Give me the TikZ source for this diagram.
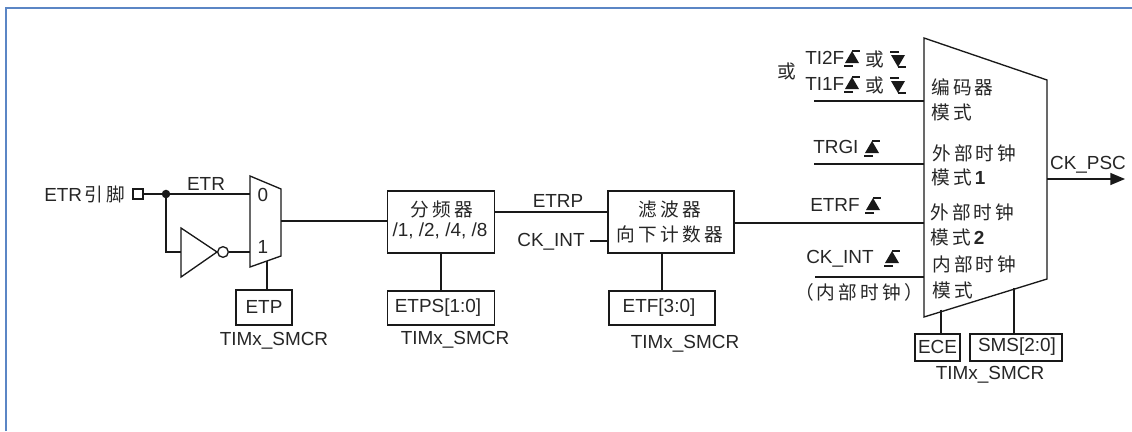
\documentclass[tikz,border=0pt]{standalone}
\usepackage{fontspec}
\setmainfont{Liberation Sans}
\newfontfamily\cjk[LetterSpace=17]{Noto Sans CJK SC}
\newcommand{\zh}[1]{{\cjk\fontsize{14}{16}\selectfont #1}}
\usetikzlibrary{arrows.meta}
\definecolor{framecol}{HTML}{5B86C5}
\tikzset{
  wire/.style={draw=black!90,line width=1pt},
  regbox/.style={draw=black!90,line width=1pt,rectangle,inner sep=0pt},
  lbl/.style={inner sep=0pt,font=\fontsize{14.2}{16}\selectfont,text=black!85},
  rise/.pic={
    \fill[black!90] (-7,4) -- (0,-8) -- (7,4) -- cycle;
    \draw[black!90,line width=.8pt] (0,-8) -- (8,-8) (1,7) -- (-8,7);
  },
  fall/.pic={
    \fill[black!90] (-7,-4) -- (0,8) -- (7,-4) -- cycle;
    \draw[black!90,line width=.8pt] (1,-7) -- (-8,-7) (0,8) -- (8,8);
  }
}
\begin{document}
\begin{tikzpicture}[x=0.75pt,y=-0.75pt]
\useasboundingbox (0,0) rectangle (1132,432);
\fill[white] (0,0) rectangle (1132,432);
\draw[framecol,line width=1.1pt] (6,431) -- (6,8) -- (1132,8);

% main selector
\coordinate (mTL) at (924,38);
\coordinate (mTR) at (1047,80);
\coordinate (mBR) at (1047,279);
\coordinate (mBL) at (924,317);
\draw[wire] (mTL) -- (mTR) -- (mBR) -- (mBL) -- cycle;
\coordinate (i1) at (814,101);
\coordinate (i2) at (814,164);
\coordinate (i4) at (815,277);
\coordinate (oEnd) at (1125,179);
\draw[wire] (i1) -- (i1 -| mTL);
\draw[wire] (i2) -- (i2 -| mTL);
\draw[wire] (i4) -- (i4 -| mTL);
\draw[wire,-{Triangle[length=11pt,width=9pt]}] (oEnd -| mTR) -- (oEnd);

% input mux
\coordinate (xTL) at (250,176);
\coordinate (xTR) at (281,189);
\coordinate (xBR) at (281,256);
\coordinate (xBL) at (250,267);
\draw[wire] (xTL) -- (xTR) -- (xBR) -- (xBL) -- cycle;
\node[regbox,line width=.8pt,minimum width=7.5pt,minimum height=7.5pt] (pin) at (138,194) {};
\coordinate (in0) at (250,194);
\coordinate (in1) at (250,252);
\coordinate (dot) at (166,194);
\draw[wire] (pin.east) -- (in0);
\fill[black!90] (dot) circle (3.2pt);
\coordinate (tA) at (181,228);
\coordinate (tB) at (181,277);
\coordinate (tC) at (217,252);
\draw[wire] (tA) -- (tC) -- (tB) -- cycle;
\node[draw=black!90,line width=1pt,circle,minimum size=8pt,inner sep=0pt] (bub) at (223,252) {};
\draw[wire] (dot) |- (tA |- tC);
\draw[wire] (bub) -- (in1);

% boxes
\node[regbox,minimum width=80.25pt,minimum height=46.5pt] (div) at (441,222) {};
\node[regbox,minimum width=94.5pt,minimum height=46.5pt] (flt) at (671,222) {};
\node[regbox,minimum width=42pt,minimum height=26.25pt] (etp) at (264,307.5) {};
\node[regbox,minimum width=80.25pt,minimum height=25.5pt] (etps) at (441,308) {};
\node[regbox,minimum width=79.5pt,minimum height=25.5pt] (etf) at (662,308) {};
\node[regbox,minimum width=33.75pt,minimum height=20.25pt] (ece) at (937.5,347.5) {};
\node[regbox,minimum width=69pt,minimum height=20.25pt] (sms) at (1016,347.5) {};

\coordinate (muxOut) at (281,221);
\coordinate (ckL) at (590,241);
\coordinate (etrpY) at (494,212);
\coordinate (fltOutY) at (734,223);
\coordinate (etpTop) at (267,261);
\coordinate (eceTop) at (941,309.5);
\coordinate (smsTop) at (1014,288);
\draw[wire] (muxOut) -- (muxOut -| div.west);
\draw[wire] (etrpY) -- (etrpY -| flt.west);
\draw[wire] (ckL) -- (ckL -| flt.west);
\draw[wire] (fltOutY) -- (fltOutY -| mTL);
\draw[wire] (etpTop) -- (etpTop |- etp.north);
\draw[wire] (div.south) -- (etps.north);
\draw[wire] (flt.south -| etf.north) -- (etf.north);
\draw[wire] (eceTop) -- (eceTop |- ece.north);
\draw[wire] (smsTop) -- (smsTop |- sms.north);

% left labels
\node[lbl,anchor=west] (t1) at (44,194) {ETR\hspace{2pt}\zh{引脚}};
\node[lbl] (t2) at (206,184) {ETR};
\node[lbl] (t3) at (263,195) {0};
\node[lbl] (t4) at (263,247) {1};
\node[lbl] (t5) at (264,307) {ETP};
\node[lbl] (t6) at (274,340.5) {TIMx\_SMCR};
% middle labels
\node[lbl] (t7) at (442,209) {\zh{分频器}};
\node[lbl] (t8) at (440,231) {/1, /2, /4, /8};
\node[lbl] (t9) at (558,201) {ETRP};
\node[lbl] (t10) at (551,242) {CK\_INT};
\node[lbl] (t11) at (670,209) {\zh{滤波器}};
\node[lbl] (t12) at (670,234) {\zh{向下计数器}};
\node[lbl] (t13) at (438,308) {ETPS[1:0]};
\node[lbl] (t14) at (455,340) {TIMx\_SMCR};
\node[lbl] (t15) at (659,308) {ETF[3:0]};
\node[lbl] (t16) at (685,344) {TIMx\_SMCR};
% right labels
\node[lbl] (t17) at (787,71) {\zh{或}};
\node[lbl,anchor=west] (t18) at (805,58) {TI2F};
\node[lbl,anchor=west] (t19) at (805,84) {TI1F};
\pic at (852,59) {rise};
\pic at (852,85) {rise};
\node[lbl] (t20) at (875,59) {\zh{或}};
\node[lbl] (t21) at (875,85) {\zh{或}};
\pic at (898,59) {fall};
\pic at (898,85) {fall};
\node[lbl,anchor=west] (t22) at (813,147) {TRGI};
\pic at (872,149) {rise};
\node[lbl,anchor=west] (t23) at (810,205) {ETRF};
\pic at (873,206) {rise};
\node[lbl,anchor=west] (t24) at (806,259) {CK\_INT};
\pic at (892,259) {rise};
\node[lbl] (t25) at (859,292) {\zh{（内部时钟）}};
\node[lbl,anchor=west] (t26) at (931,87) {\zh{编码器}};
\node[lbl,anchor=west] (t27) at (931,112) {\zh{模式}};
\node[lbl,anchor=west] (t28) at (932,153) {\zh{外部时钟}};
\node[lbl,anchor=west] (t29) at (931,177) {\zh{模式}\textbf{1}};
\node[lbl,anchor=west] (t30) at (930,212) {\zh{外部时钟}};
\node[lbl,anchor=west] (t31) at (930,237) {\zh{模式}\textbf{2}};
\node[lbl,anchor=west] (t32) at (932,264) {\zh{内部时钟}};
\node[lbl,anchor=west] (t33) at (932,290) {\zh{模式}};
\node[lbl] (t34) at (1088,165) {CK\_PSC};
\node[lbl] (t35) at (937.5,347) {ECE};
\node[lbl] (t36) at (1017,347) {SMS[2:0]};
\node[lbl] (t37) at (990,375) {TIMx\_SMCR};
\end{tikzpicture}
\end{document}
